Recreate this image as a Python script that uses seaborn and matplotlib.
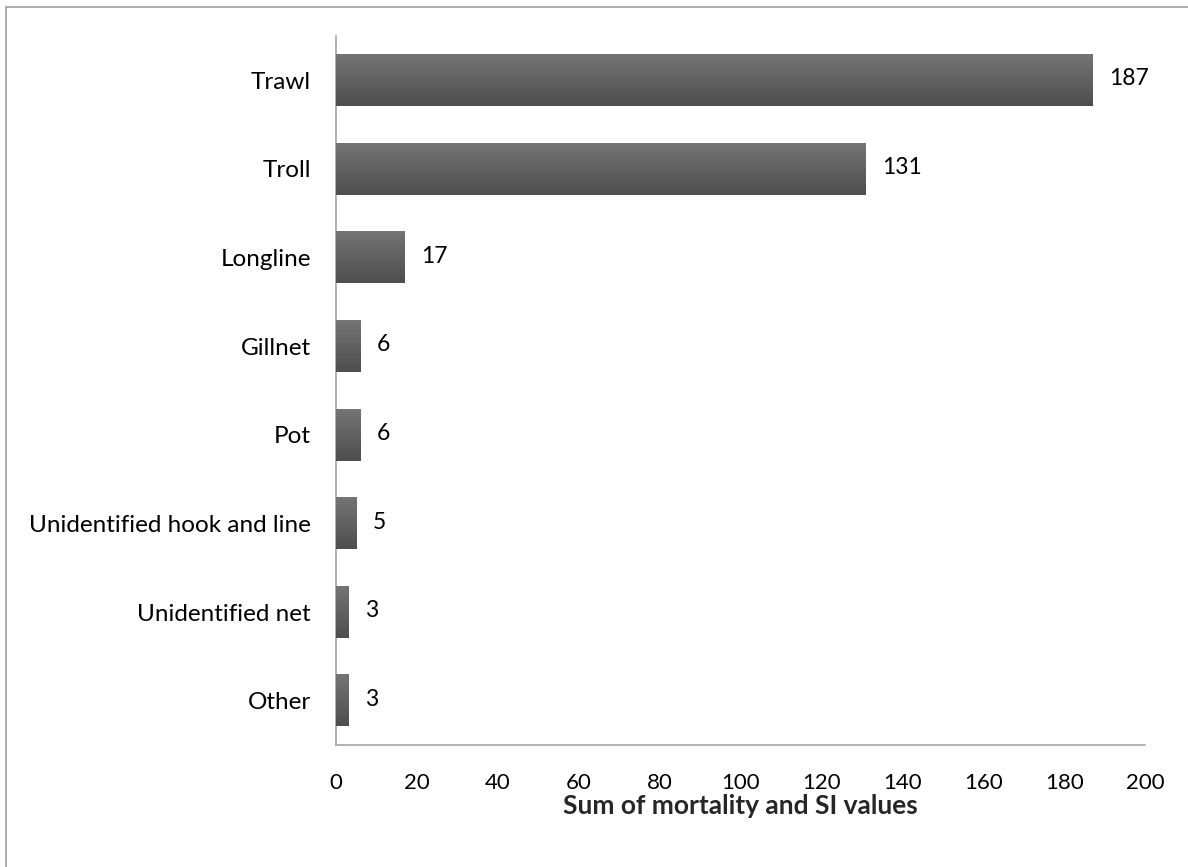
import matplotlib
matplotlib.use("Agg")
import matplotlib.pyplot as plt
import matplotlib.patches as mpatches
from matplotlib.colors import LinearSegmentedColormap
import numpy as np
import pandas as pd
import seaborn as sns

gear = ["Trawl", "Troll", "Longline", "Gillnet", "Pot",
        "Unidentified hook and line", "Unidentified net", "Other"]
values = [187, 131, 17, 6, 6, 5, 3, 3]
xticks = [0, 20, 40, 60, 80, 100, 120, 140, 160, 180, 200]

sns.set_theme(style="white")
plt.rcParams["font.family"] = ["Lato", "DejaVu Sans"]

df = pd.DataFrame({"gear": gear, "value": values})

fig = plt.figure(figsize=(11.88, 8.67), dpi=100)
ax = fig.add_axes([0.2828, 0.1407, 0.681, 0.8178])

sns.barplot(data=df, x="value", y="gear", color="#616161", width=0.58,
            saturation=1, ax=ax)

# excel-ish vertical gradient on each bar
cmap = LinearSegmentedColormap.from_list("bar", ["#747474", "#4e4e4e"])
grad = np.linspace(0, 1, 64).reshape(-1, 1)
for p in ax.patches:
    x0, y0 = p.get_x(), p.get_y()
    w, h = p.get_width(), p.get_height()
    ax.imshow(grad, cmap=cmap, aspect="auto", origin="upper",
              extent=(x0, x0 + w, y0 + h, y0), zorder=3)

ax.set_xlim(0, 200)
ax.set_ylim(len(gear) - 0.5, -0.5)

for i, v in enumerate(values):
    ax.annotate(str(v), xy=(v, i), xytext=(12, 1), textcoords="offset points",
                va="center", ha="left", fontsize=16.5, color="black")

ax.set_xticks(xticks)
ax.set_xticklabels([str(t) for t in xticks])
ax.tick_params(axis="both", length=0, colors="black")
ax.tick_params(axis="x", pad=20, labelsize=16)
ax.tick_params(axis="y", pad=18, labelsize=17.5)
ax.set_xlabel("Sum of mortality and SI values", fontsize=19, fontweight="bold",
              labelpad=1)
ax.set_ylabel("")

for s in ["top", "right"]:
    ax.spines[s].set_visible(False)
for s in ["left", "bottom"]:
    ax.spines[s].set_color("#a6a6a6")
    ax.spines[s].set_linewidth(1.2)

# chart area border
fig.patches.append(mpatches.Rectangle((6 / 1188, -0.05), 1.1, 1.05 - 7 / 867,
                                      transform=fig.transFigure, fill=False,
                                      edgecolor="#a0a0a0", linewidth=1.2))

fig.savefig("out.png", dpi=100)
